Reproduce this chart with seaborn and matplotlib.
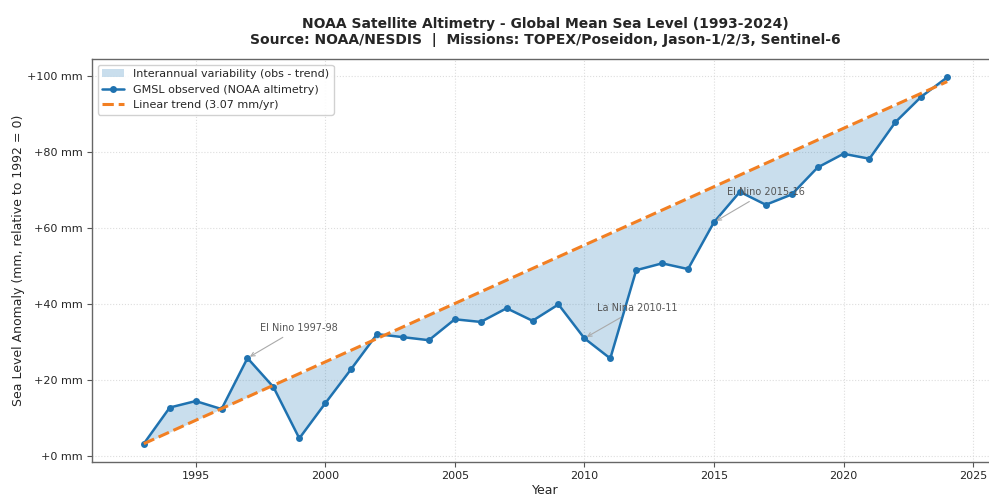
import numpy as np
import pandas as pd
import matplotlib
matplotlib.use("Agg")
import matplotlib.pyplot as plt
from matplotlib.ticker import FuncFormatter, MultipleLocator
import seaborn as sns

# Annual global mean sea level anomaly (mm, relative to 1992)
years = list(range(1993, 2025))
gmsl_mm = [3.3, 12.8, 14.5, 12.4, 25.8, 18.2, 4.7, 13.9, 22.9, 32.1, 31.3, 30.5,
           36.0, 35.3, 38.9, 35.6, 39.9, 31.0, 25.7, 48.9, 50.7, 49.2,
           61.5, 69.5, 66.1, 68.8, 75.9, 79.5, 78.2, 87.8, 94.5, 99.6]

# Long-term rise rate (mm/yr), applied from the first year of the record
trend_rate = 3.07

# ENSO events to annotate: (label, year of the marked point)
events = [("El Nino 1997-98", 1997), ("La Nina 2010-11", 2010), ("El Nino 2015-16", 2015)]

df = pd.DataFrame({"year": years, "gmsl": gmsl_mm})
df["trend"] = df["gmsl"].iloc[0] + trend_rate * (df["year"] - df["year"].iloc[0])

sns.set_style("ticks")
plt.rcParams["font.family"] = ["DejaVu Sans"]

fig = plt.figure(figsize=(9.89, 4.95), dpi=100)
ax = fig.add_axes([92 / 989, 33 / 495, 907 / 989, 403 / 495])

blue = "#1f72b0"
orange = "#f27f22"

ax.fill_between(df["year"], df["gmsl"], df["trend"], color="#1f77b4", alpha=0.24,
                linewidth=0, label="Interannual variability (obs - trend)")
sns.lineplot(data=df, x="year", y="gmsl", ax=ax, color=blue, marker="o",
             markersize=5, markeredgewidth=0, linewidth=1.8,
             label="GMSL observed (NOAA altimetry)")
sns.lineplot(data=df, x="year", y="trend", ax=ax, color=orange, linewidth=2.2,
             linestyle="--", label=f"Linear trend ({trend_rate:.2f} mm/yr)")

for text, yr in events:
    val = df.loc[df["year"] == yr, "gmsl"].iloc[0]
    ax.annotate(text, xy=(yr, val), xytext=(yr + 0.5, val + 8),
                fontsize=7, color="#555555", ha="left", va="center",
                arrowprops=dict(arrowstyle="->", color="#aaaaaa", lw=0.8))

ax.set_xlim(1991, 2026)
ax.xaxis.set_major_locator(MultipleLocator(5))
ax.yaxis.set_major_locator(MultipleLocator(20))
ax.yaxis.set_major_formatter(FuncFormatter(lambda v, p: f"{v:+.0f} mm"))
ax.tick_params(labelsize=8, color="#555555", length=3.5, pad=3)
for s in ax.spines.values():
    s.set_color("#666666")
    s.set_linewidth(1.0)

ax.grid(True, linestyle=":", color="#d5d5d5", linewidth=0.8, alpha=0.8)
ax.set_xlabel("Year", fontsize=9, labelpad=2)
ax.set_ylabel("Sea Level Anomaly (mm, relative to 1992 = 0)", fontsize=9, labelpad=2)
ax.set_title("NOAA Satellite Altimetry - Global Mean Sea Level (1993-2024)\n"
             "Source: NOAA/NESDIS  |  Missions: TOPEX/Poseidon, Jason-1/2/3, Sentinel-6",
             fontsize=10, fontweight="bold", pad=11)
ax.legend(loc="upper left", fontsize=8, frameon=True, framealpha=0.9,
          edgecolor="#cccccc", fancybox=True)

fig.savefig("out.png", dpi=100)
